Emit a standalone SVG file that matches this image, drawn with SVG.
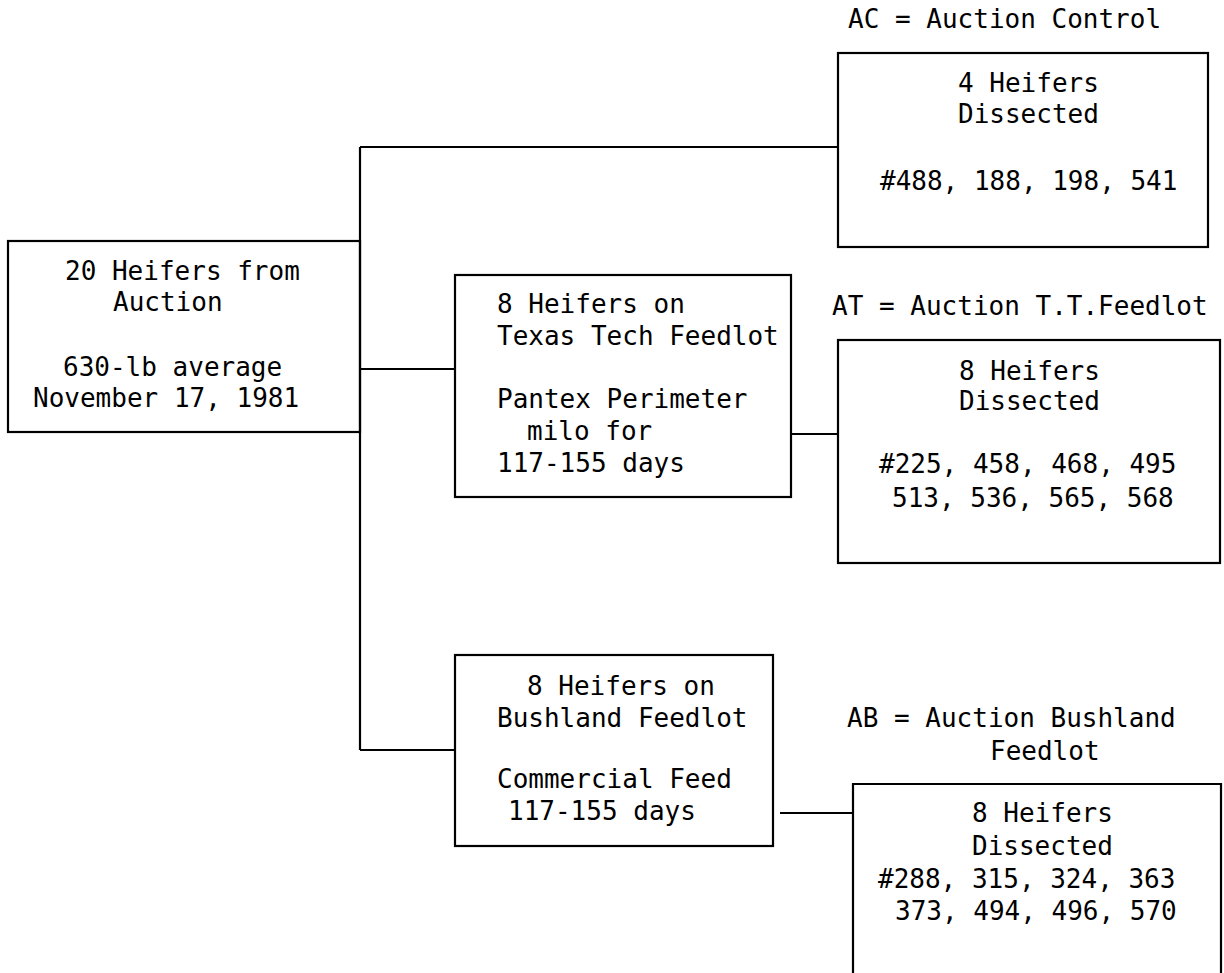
<svg xmlns="http://www.w3.org/2000/svg" width="1224" height="973" viewBox="0 0 1224 973">
<style>
.box{fill:none;stroke:#000;stroke-width:2.2}
.ln{fill:none;stroke:#000;stroke-width:2.2}
text{font-family:"DejaVu Sans Mono","Liberation Mono",monospace;font-size:26px;fill:#000}
</style>
<rect x="0" y="0" width="1224" height="973" fill="#fff"/>
<g id="connectors">
<path class="ln" d="M360 147 V750"/>
<path class="ln" d="M360 147 H838"/>
<path class="ln" d="M360 369 H455"/>
<path class="ln" d="M360 750 H455"/>
<path class="ln" d="M791 434 H838"/>
<path class="ln" d="M780 813 H853"/>
</g>
<g id="source">
<rect class="box" x="8" y="241" width="352" height="191"/>
<text x="65" y="280">20 Heifers from</text>
<text x="113" y="311">Auction</text>
<text x="63" y="376">630-lb average</text>
<text x="33" y="407">November 17, 1981</text>
</g>
<g id="texas-tech">
<rect class="box" x="455" y="275" width="336" height="222"/>
<text x="497" y="313">8 Heifers on</text>
<text x="497" y="345">Texas Tech Feedlot</text>
<text x="497" y="408">Pantex Perimeter</text>
<text x="527" y="440">milo for</text>
<text x="497" y="472">117-155 days</text>
</g>
<g id="bushland">
<rect class="box" x="455" y="655" width="318" height="191"/>
<text x="527" y="695">8 Heifers on</text>
<text x="497" y="727">Bushland Feedlot</text>
<text x="497" y="788">Commercial Feed</text>
<text x="508" y="820">117-155 days</text>
</g>
<g id="ac">
<text x="848" y="28">AC = Auction Control</text>
<rect class="box" x="838" y="53" width="370" height="194"/>
<text x="958" y="92">4 Heifers</text>
<text x="958" y="123">Dissected</text>
<text x="880" y="190">#488, 188, 198, 541</text>
</g>
<g id="at">
<text x="832" y="315">AT = Auction T.T.Feedlot</text>
<rect class="box" x="838" y="340" width="382" height="223"/>
<text x="959" y="380">8 Heifers</text>
<text x="959" y="410">Dissected</text>
<text x="879" y="473">#225, 458, 468, 495</text>
<text x="892" y="507">513, 536, 565, 568</text>
</g>
<g id="ab">
<text x="847" y="727">AB = Auction Bushland</text>
<text x="990" y="760">Feedlot</text>
<path class="box" d="M853 975 V784 H1221 V975"/>
<text x="972" y="822">8 Heifers</text>
<text x="972" y="855">Dissected</text>
<text x="878" y="888">#288, 315, 324, 363</text>
<text x="895" y="920">373, 494, 496, 570</text>
</g>
</svg>
